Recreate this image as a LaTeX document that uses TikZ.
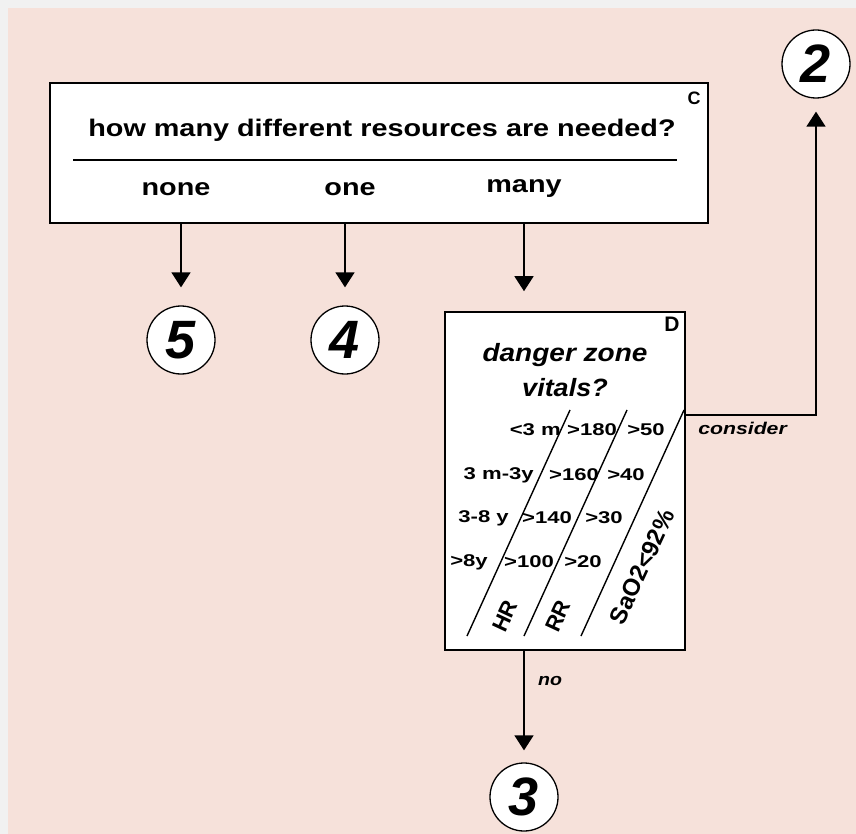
\documentclass[tikz,border=0pt]{standalone}
\usepackage{fontspec}
\setmainfont{Liberation Sans}
\usetikzlibrary{arrows.meta, positioning}

\definecolor{bgpink}{RGB}{246,225,218}
\definecolor{bggrey}{RGB}{241,241,241}

\begin{document}
\begin{tikzpicture}[x=1pt, y=-1pt,
		box/.style={draw, line width=1.6pt, fill=white, inner sep=0pt},
		numcirc/.style={circle, draw, line width=1.3pt, fill=white, minimum size=68pt, inner sep=0pt, font=\bfseries\itshape\fontsize{54}{54}\selectfont},
		arr/.style={-{Triangle[length=15pt, width=19pt]}, line width=1.5pt},
		txt/.style={font=\bfseries\fontsize{#1}{#1}\selectfont, inner sep=0pt},
		itxt/.style={font=\bfseries\itshape\fontsize{#1}{#1}\selectfont, inner sep=0pt},
		wide/.style={xscale=#1}]
	% background
	\fill[bggrey] (0,0) rectangle (856,834);
	\fill[bgpink] (8,8) rectangle (856,834);
	\useasboundingbox (0,0) rectangle (856,834);

	% question C
	\node[box, minimum width=658pt, minimum height=140pt] (boxC) at (379,153) {};
	\node[txt=18, anchor=north east] (labC) at ([xshift=-8pt, yshift=-10pt]boxC.north east) {C};
	\node[txt=24, wide=1.2] (qC) at (382,130) {how many different resources are needed?};
	\draw[line width=1.6pt] (73,160) -- (677,160);
	\node[txt=24, wide=1.2] (none) at (176,189) {none};
	\node[txt=24, wide=1.2] (one)  at (350,189) {one};
	\node[txt=24, wide=1.2] (many) at (524,189) {many};

	% outcomes
	\node[numcirc] (c5) at (181,340) {5};
	\node[numcirc] (c4) at (345,340) {4};
	\node[numcirc] (c2) at (816,64)  {2};
	\node[numcirc] (c3) at (524,797) {3};

	% question D
	\node[box, minimum width=240pt, minimum height=338pt] (boxD) at (565,481) {};
	\node[txt=21, anchor=north east] (labD) at ([xshift=-6pt, yshift=-6pt]boxD.north east) {D};
	\node[itxt=25, wide=1.12] (qD1) at (565,355) {danger zone};
	\node[itxt=25, wide=1.08] (qD2) at (565,388) {vitals?};

	\draw[line width=1.4pt] (570,410) -- (467,636)
	            (627,410) -- (524,636)
	            (684,410) -- (581,636);

	\node[txt=17, wide=1.3, anchor=east] (age1) at (561,430) {<3 m};
	\node[txt=17, wide=1.3] (hr1) at (592,430) {>180};
	\node[txt=17, wide=1.3] (rr1) at (646,430) {>50};
	\node[txt=17, wide=1.3, anchor=east] (age2) at (534,475) {3 m-3y};
	\node[txt=17, wide=1.3] (hr2) at (574,475) {>160};
	\node[txt=17, wide=1.3] (rr2) at (626,475) {>40};
	\node[txt=17, wide=1.3, anchor=east] (age3) at (509,518) {3-8 y};
	\node[txt=17, wide=1.3] (hr3) at (547,518) {>140};
	\node[txt=17, wide=1.3] (rr3) at (604,518) {>30};
	\node[txt=17, wide=1.3, anchor=east] (age4) at (488,562) {>8y};
	\node[txt=17, wide=1.3] (hr4) at (529,562) {>100};
	\node[txt=17, wide=1.3] (rr4) at (583,562) {>20};

	\node[txt=22, rotate=65] (hr)  at (505,616) {HR};
	\node[txt=22, rotate=65] (rr)  at (558,616) {RR};
	\node[txt=24, rotate=65] (sat) at (642,567) {SaO2<92\%};

	% connectors
	\coordinate (dcons) at (boxD.east |- 0,415);
	\draw[arr, shorten >=18pt] (boxC.south -| c5) -- (c5);
	\draw[arr, shorten >=18pt] (boxC.south -| c4) -- (c4);
	\draw[arr, shorten >=20pt] (boxC.south -| many) -- (boxD.north -| many);
	\draw[arr, shorten >=13pt] (dcons) -| (c2);
	\draw[arr, shorten >=12pt] (boxD.south -| c3) -- (c3);
	\node[itxt=17, wide=1.25, anchor=west] (cons) at (698,428) {consider};
	\node[itxt=17, wide=1.15, anchor=west] (no) at (538,681) {no};
\end{tikzpicture}
\end{document}
